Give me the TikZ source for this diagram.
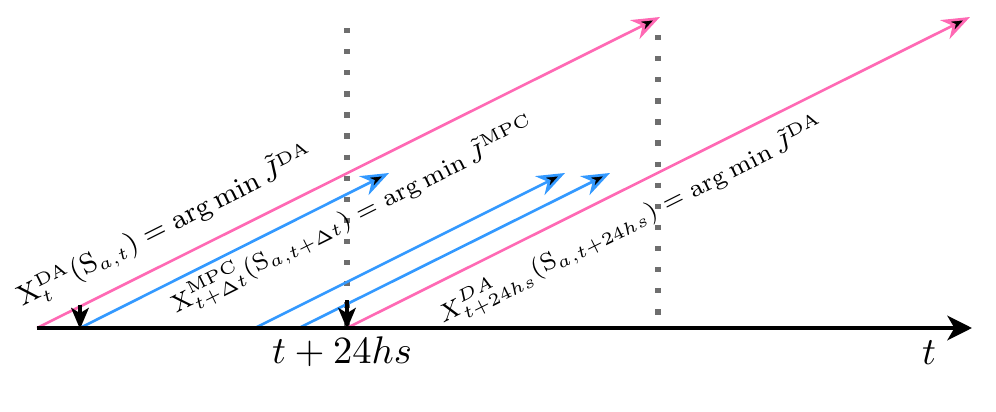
\documentclass[tikz,border=0pt]{standalone}
\usetikzlibrary{arrows.meta}
\definecolor{pinkl}{RGB}{255,105,180}
\definecolor{bluel}{RGB}{51,153,255}
\definecolor{dotgray}{RGB}{110,110,110}
\begin{document}
\begin{tikzpicture}[x=0.01cm,y=-0.01cm,
  pinkarrow/.style={draw=pinkl,line width=0.75pt,-{Stealth[length=8pt,width=6pt,inset=2.5pt,fill=black]}},
  bluearrow/.style={draw=bluel,line width=0.75pt,-{Stealth[length=8pt,width=6pt,inset=2.5pt,fill=black]}},
  axisline/.style={draw=black,line width=1.1pt,-{Stealth[length=7pt,width=7pt,inset=2pt]}},
  downarrow/.style={draw=black,line width=1pt,-{Stealth[length=6pt,width=5pt,inset=1.5pt]}},
  dotline/.style={draw=dotgray,line width=1.5pt,dash pattern=on 1.5pt off 4.5pt},
  lbl/.style={rotate=26.57,inner sep=0pt}]
\useasboundingbox (0,0) rectangle (996,412);
% coordinates
\coordinate (ax0) at (37,328);
\coordinate (ax1) at (972,328);
\coordinate (p1s) at (37,328);
\coordinate (p1e) at (660,17);
\coordinate (p2s) at (347,328);
\coordinate (p2e) at (970,17);
\coordinate (b1s) at (80,328);
\coordinate (b1e) at (389,173);
\coordinate (b2s) at (255,328);
\coordinate (b2e) at (565,173);
\coordinate (b3s) at (299,328);
\coordinate (b3e) at (610,173);
\coordinate (v1t) at (347,28);
\coordinate (v1b) at (347,326);
\coordinate (v2t) at (658,35);
\coordinate (v2b) at (658,328);
\coordinate (d1t) at (80,305);
\coordinate (d1b) at (80,329);
\coordinate (d2t) at (347,300);
\coordinate (d2b) at (347,329);
% dotted lines
\draw[dotline] (v1t) -- (v1b);
\draw[dotline] (v2t) -- (v2b);
% colored arrows
\draw[pinkarrow] (p1s) -- (p1e);
\draw[pinkarrow] (p2s) -- (p2e);
\draw[bluearrow] (b1s) -- (b1e);
\draw[bluearrow] (b2s) -- (b2e);
\draw[bluearrow] (b3s) -- (b3e);
% axis
\draw[axisline] (ax0) -- (ax1);
% down arrows
\draw[downarrow] (d1t) -- (d1b);
\draw[downarrow] (d2t) -- (d2b);
% labels
\node[lbl,font=\fontsize{7.7}{9}\selectfont] (l1) at (165,225) {$\mathrm{X}_t^{\mathrm{DA}}(\mathrm{S}_{a,t})=\arg\min\tilde{J}^{\mathrm{DA}}$};
\node[lbl,font=\fontsize{7.4}{9}\selectfont] (l2) at (354,217) {$\mathrm{X}_{t+\Delta t}^{\mathrm{MPC}}(\mathrm{S}_{a,t+\Delta t})=\arg\min\tilde{J}^{\mathrm{MPC}}$};
\node[lbl,font=\fontsize{7.2}{9}\selectfont] (l3) at (632,222) {$X_{t+24hs}^{DA}(\mathrm{S}_{a,t+24hs})=\arg\min\tilde{J}^{\mathrm{DA}}$};
\node[font=\fontsize{11}{13}\selectfont] (l4) at (342,352) {$t+24hs$};
\node[font=\fontsize{11}{13}\selectfont] (l5) at (929,353) {$t$};
\end{tikzpicture}
\end{document}
